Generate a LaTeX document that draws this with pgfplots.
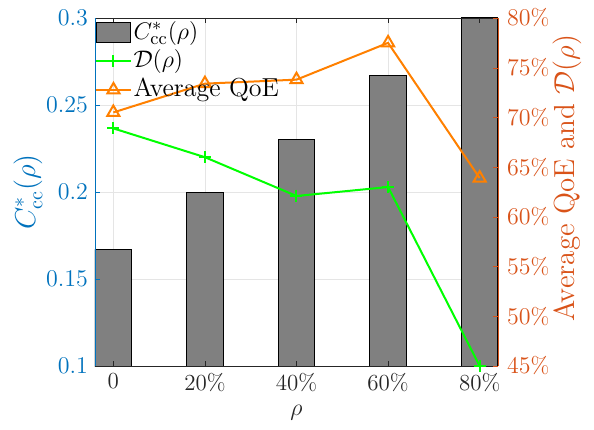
\documentclass[border=0pt]{standalone}
\usepackage{pgfplots}
\pgfplotsset{compat=1.18}
\definecolor{mblue}{rgb}{0,0.447,0.741}
\definecolor{mred}{rgb}{0.85,0.325,0.098}
\definecolor{morange}{rgb}{1,0.5,0}
\definecolor{mgreen}{rgb}{0,1,0}
\definecolor{mgray}{rgb}{0.5,0.5,0.5}
\definecolor{axgray}{rgb}{0.15,0.15,0.15}
\begin{document}
\begin{tikzpicture}
\pgfplotsset{
 every axis/.append style={scale only axis, width=201.5pt, height=174pt, xmin=-0.2, xmax=4.2, xtick={0,1,2,3,4}, major tick length=2.5pt, tick align=inside},
 tick label style={font=\fontsize{11.5}{13}\selectfont},
}
% grid only
\begin{axis}[name=ax, ymin=0.1, ymax=0.3, ytick={0.1,0.15,0.2,0.25,0.3},
  grid=major, grid style={color=black!10, line width=0.4pt},
  xticklabels={}, yticklabels={}, axis line style={draw=none}, major tick style={draw=none}]
\addplot[draw=none] coordinates {(0,0.2)};
\end{axis}
% bars with left axis
\begin{axis}[ymin=0.1, ymax=0.3, ytick={0.1,0.15,0.2,0.25,0.3},
  yticklabel style={color=mblue, /pgf/number format/fixed},
  xticklabels={0,20\%,40\%,60\%,80\%}, xticklabel style={color=axgray},
  xlabel={$\rho$}, xlabel style={color=axgray, font=\fontsize{13}{15}\selectfont},
  ylabel={$C^{*}_{\mathrm{cc}}(\rho)$},
  every axis y label/.style={at={(rel axis cs:0,0.5)}, xshift=-33.5pt, rotate=90, anchor=center, color=mblue, font=\fontsize{14.5}{16}\selectfont},
  ytick pos=left, axis on top, separate axis lines,
  y axis line style={mblue}, ytick style={mblue},
  x axis line style={axgray}, xtick style={axgray}]
\addplot[ybar, bar width=0.4, fill=mgray, draw=black, line width=0.5pt] coordinates {(0,0.1667)(1,0.2)(2,0.23)(3,0.2667)(4,0.3)};
\end{axis}
% lines with right axis
\begin{axis}[ymin=45, ymax=80, ytick={45,50,55,60,65,70,75,80},
  axis y line*=right, axis x line=none,
  yticklabel={\pgfmathprintnumber{\tick}\%}, yticklabel style={color=mred, xshift=1pt},
  ylabel={Average QoE and $\mathcal{D}(\rho)$},
  every axis y label/.style={at={(rel axis cs:1,0.54)}, xshift=34.5pt, rotate=90, anchor=center, color=mred, font=\fontsize{14.5}{16}\selectfont},
  y axis line style={mred}, ytick style={mred},
  legend style={at={(0,1)}, anchor=north west, draw=none, fill=none, inner sep=0pt, row sep=0pt,
    font=\fontsize{13}{15}\selectfont, nodes={inner xsep=1pt, inner ysep=1pt, text height=9.3pt, text depth=3pt}}, legend cell align=left]
\addlegendimage{legend image code/.code={\draw[fill=mgray, draw=black] (0pt,-5pt) rectangle (17pt,5pt);}}
\addlegendentry{$C^{*}_{\mathrm{cc}}(\rho)$}
\addplot[mgreen, line width=1pt, mark=+, mark size=3pt] coordinates {(0,68.9)(1,66.0)(2,62.1)(3,63.0)(4,45)};
\addlegendentry{$\mathcal{D}(\rho)$}
\addplot[morange, line width=1pt, mark=triangle, mark size=3.5pt] coordinates {(0,70.5)(1,73.4)(2,73.8)(3,77.5)(4,63.9)};
\addlegendentry{Average QoE}
\end{axis}
\pgfresetboundingbox
\path ([xshift=-47.5pt,yshift=-31.5pt]ax.south west) rectangle ([xshift=48pt,yshift=9pt]ax.north east);
\end{tikzpicture}
\end{document}
